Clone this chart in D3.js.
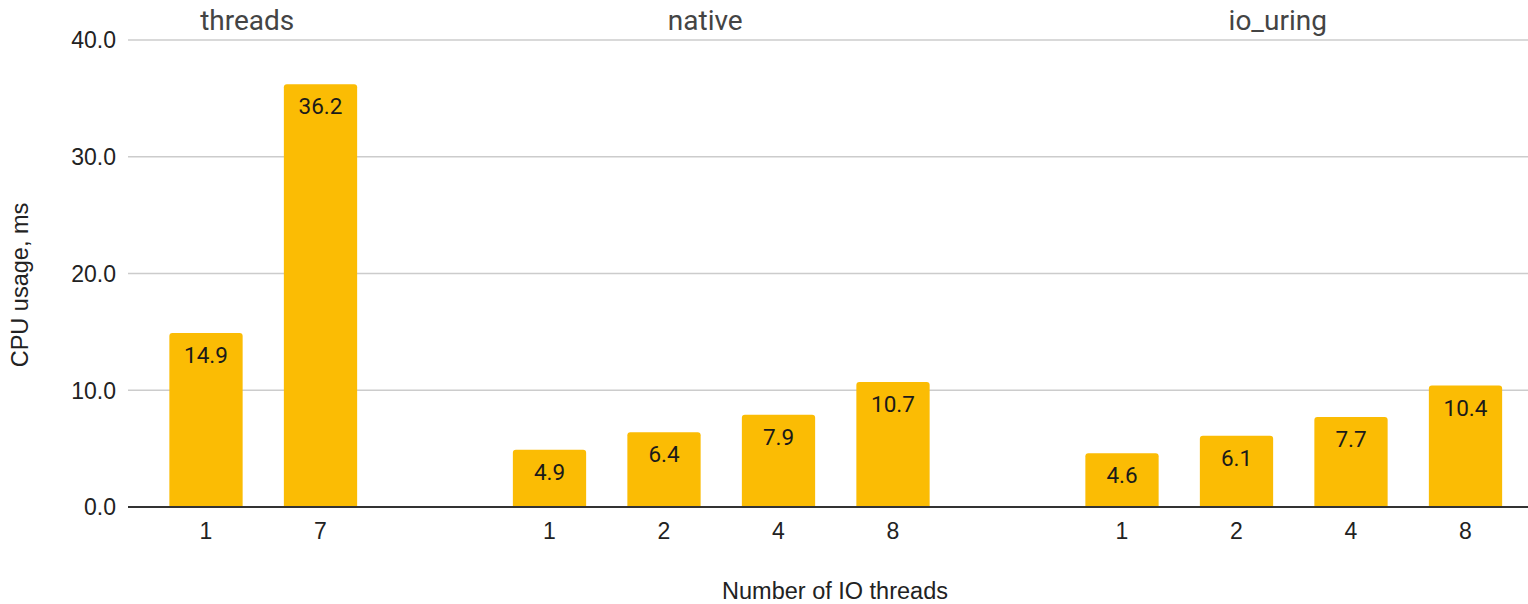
<!DOCTYPE html>
<html>
<head>
<meta charset="utf-8">
<script src="https://cdn.jsdelivr.net/npm/d3@7"></script>
<style>
  html, body { margin: 0; padding: 0; background: #fff; }
  svg { display: block; }
</style>
</head>
<body>
<svg id="chart" width="1528" height="604"></svg>
<script>
// Groups of IO backends and the thread counts measured for each
const groups = ["threads", "native", "io_uring"];
const threadCounts = [["1", "7"], ["1", "2", "4", "8"], ["1", "2", "4", "8"]];
// CPU usage in ms per group, same order as threadCounts
const cpuValues = [[14.9, 36.2], [4.9, 6.4, 7.9, 10.7], [4.6, 6.1, 7.7, 10.4]];
const yTicks = [0, 10, 20, 30, 40];

// Flatten to slots, leaving one empty slot between groups
const slots = [];
groups.forEach((g, gi) => {
  threadCounts[gi].forEach((t, i) => slots.push({ key: g + "-" + t, group: g, label: t, value: cpuValues[gi][i] }));
  if (gi < groups.length - 1) slots.push({ key: "gap-" + gi, group: null, label: "", value: null });
});

const svg = d3.select("#chart");
const plotLeft = 128, plotRight = 1528, plotTop = 40, plotBottom = 507;

const x = d3.scaleBand()
  .domain(slots.map(d => d.key))
  .range([148.75, 1522.75])
  .paddingInner(0.36)
  .paddingOuter(0.18);

const y = d3.scaleLinear().domain([0, 40]).range([plotBottom, plotTop]);

// Gridlines
svg.append("g").selectAll("line")
  .data(yTicks.filter(t => t > 0))
  .join("line")
  .attr("x1", plotLeft).attr("x2", plotRight)
  .attr("y1", d => y(d)).attr("y2", d => y(d))
  .attr("stroke", "#cccccc").attr("stroke-width", 1.5);

// Y axis labels
svg.append("g").selectAll("text")
  .data(yTicks)
  .join("text")
  .attr("x", 116).attr("y", d => y(d))
  .attr("dy", "0.36em")
  .attr("text-anchor", "end")
  .attr("font-family", "Liberation Sans, Arial, sans-serif")
  .attr("font-size", 23)
  .attr("fill", "#222")
  .text(d => d3.format(".1f")(d));

// Bars with rounded top corners
const bars = slots.filter(d => d.value !== null);
const bw = x.bandwidth(), r = 3;
svg.append("g").selectAll("path")
  .data(bars)
  .join("path")
  .attr("fill", "#fbbc04")
  .attr("d", d => {
    const x0 = x(d.key), x1 = x0 + bw, yt = y(d.value), yb = y(0);
    return `M${x0},${yb}V${yt + r}Q${x0},${yt} ${x0 + r},${yt}H${x1 - r}Q${x1},${yt} ${x1},${yt + r}V${yb}Z`;
  });

// Value labels inside bars
svg.append("g").selectAll("text")
  .data(bars)
  .join("text")
  .attr("x", d => x(d.key) + bw / 2)
  .attr("y", d => y(d.value) + 22)
  .attr("dy", "0.36em")
  .attr("text-anchor", "middle")
  .attr("font-family", "Roboto, sans-serif")
  .attr("font-size", 22.5)
  .attr("fill", "#1a1a1a")
  .text(d => d3.format(".1f")(d.value));

// Baseline
svg.append("line")
  .attr("x1", plotLeft).attr("x2", plotRight)
  .attr("y1", y(0)).attr("y2", y(0))
  .attr("stroke", "#333").attr("stroke-width", 2);

// X tick labels
svg.append("g").selectAll("text")
  .data(bars)
  .join("text")
  .attr("x", d => x(d.key) + bw / 2)
  .attr("y", 531)
  .attr("dy", "0.36em")
  .attr("text-anchor", "middle")
  .attr("font-family", "Liberation Sans, Arial, sans-serif")
  .attr("font-size", 23)
  .attr("fill", "#222")
  .text(d => d.label);

// Group titles
svg.append("g").selectAll("text")
  .data(groups)
  .join("text")
  .attr("x", g => {
    const ks = slots.filter(s => s.group === g);
    const a = x(ks[0].key), b = x(ks[ks.length - 1].key) + bw;
    return (a + b) / 2 - 16;
  })
  .attr("y", 20)
  .attr("dy", "0.36em")
  .attr("text-anchor", "middle")
  .attr("font-family", "Roboto, sans-serif")
  .attr("font-size", 28)
  .attr("fill", "#444")
  .text(g => g);

// Axis titles
svg.append("text")
  .attr("transform", "translate(20,285) rotate(-90)")
  .attr("dy", "0.36em")
  .attr("text-anchor", "middle")
  .attr("font-family", "Liberation Sans, Arial, sans-serif")
  .attr("font-size", 23.5)
  .attr("fill", "#222")
  .text("CPU usage, ms");

svg.append("text")
  .attr("x", 835).attr("y", 591)
  .attr("dy", "0.36em")
  .attr("text-anchor", "middle")
  .attr("font-family", "Liberation Sans, Arial, sans-serif")
  .attr("font-size", 23.5)
  .attr("fill", "#222")
  .text("Number of IO threads");
</script>
</body>
</html>
